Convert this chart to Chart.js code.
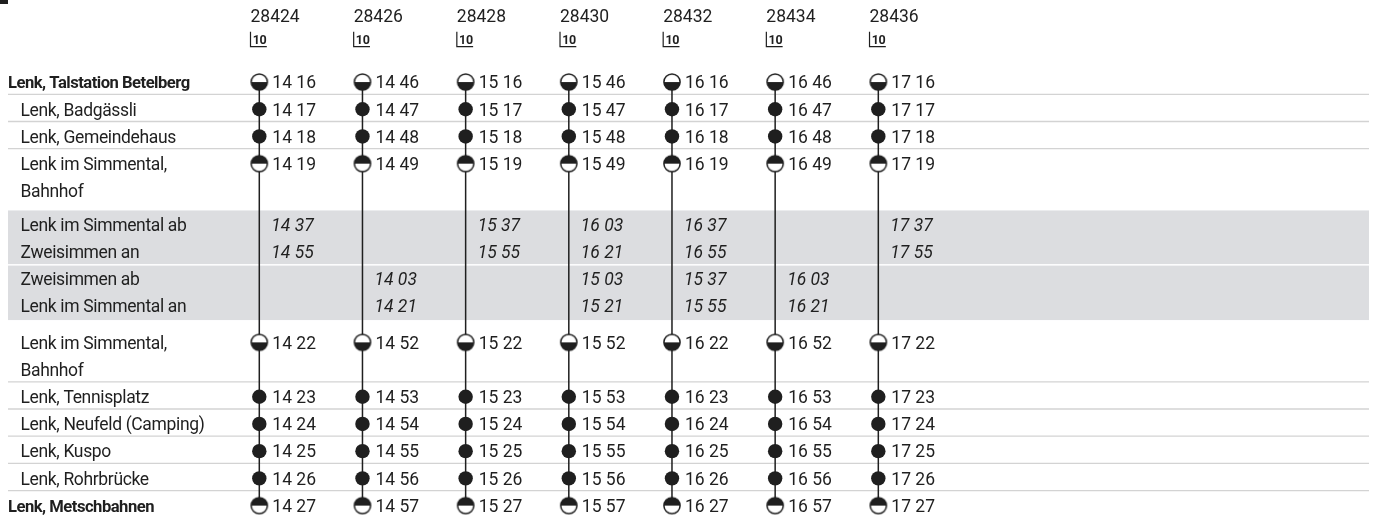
<!DOCTYPE html>
<html><head><meta charset="utf-8">
<script src="https://cdn.jsdelivr.net/npm/chart.js@4.4.1/dist/chart.umd.min.js"></script>
<style>html,body{margin:0;padding:0;background:#fff;overflow:hidden}#wrap{width:1375px;height:515px;position:relative}</style>
</head><body><div id="wrap"><canvas id="c"></canvas></div>
<script>
// ---------- DATA ----------
const trains = ['28424', '28426', '28428', '28430', '28432', '28434', '28436'];
const trainClass = ['10', '10', '10', '10', '10', '10', '10'];

const stopNames = ['Lenk, Talstation Betelberg', 'Lenk, Badgässli', 'Lenk, Gemeindehaus',
  ['Lenk im Simmental,', 'Bahnhof'], ['Lenk im Simmental,', 'Bahnhof'],
  'Lenk, Tennisplatz', 'Lenk, Neufeld (Camping)', 'Lenk, Kuspo', 'Lenk, Rohrbrücke', 'Lenk, Metschbahnen'];
const stopBold = [true, false, false, false, false, false, false, false, false, true];
const stopSymbol = ['start', 'dot', 'dot', 'arr', 'dep', 'dot', 'dot', 'dot', 'dot', 'end'];

const tTalstation   = ['14 16', '14 46', '15 16', '15 46', '16 16', '16 46', '17 16'];
const tBadgaessli   = ['14 17', '14 47', '15 17', '15 47', '16 17', '16 47', '17 17'];
const tGemeindehaus = ['14 18', '14 48', '15 18', '15 48', '16 18', '16 48', '17 18'];
const tBahnhofAn    = ['14 19', '14 49', '15 19', '15 49', '16 19', '16 49', '17 19'];
const tBahnhofAb    = ['14 22', '14 52', '15 22', '15 52', '16 22', '16 52', '17 22'];
const tTennisplatz  = ['14 23', '14 53', '15 23', '15 53', '16 23', '16 53', '17 23'];
const tNeufeld      = ['14 24', '14 54', '15 24', '15 54', '16 24', '16 54', '17 24'];
const tKuspo        = ['14 25', '14 55', '15 25', '15 55', '16 25', '16 55', '17 25'];
const tRohrbruecke  = ['14 26', '14 56', '15 26', '15 56', '16 26', '16 56', '17 26'];
const tMetschbahnen = ['14 27', '14 57', '15 27', '15 57', '16 27', '16 57', '17 27'];
const stopTimes = [tTalstation, tBadgaessli, tGemeindehaus, tBahnhofAn, tBahnhofAb,
  tTennisplatz, tNeufeld, tKuspo, tRohrbruecke, tMetschbahnen];

const connLabels = ['Lenk im Simmental ab', 'Zweisimmen an', 'Zweisimmen ab', 'Lenk im Simmental an'];
const cLenkAb = ['14 37', null, '15 37', '16 03', '16 37', null, '17 37'];
const cZweiAn = ['14 55', null, '15 55', '16 21', '16 55', null, '17 55'];
const cZweiAb = [null, '14 03', null, '15 03', '15 37', '16 03', null];
const cLenkAn = [null, '14 21', null, '15 21', '15 55', '16 21', null];
const connTimes = [cLenkAb, cZweiAn, cZweiAb, cLenkAn];

// ---------- LAYOUT ----------
const W = 1375, H = 515;
const LINE_PX = 27.2;
const COL0_PX = 259.3, COL_PX = 103.17;
const FIRST_ROW_TOP = 67.1 / LINE_PX;
const GAP = 0.27;
const GRAY_AFTER = 3;
const SYM_IN_LINE = 0.55;
const TABLE_L = 8, TABLE_R = 1369;
const TXT = '#1f1f1f';
const FONT = 'Roboto';
const FS = 17.5;

const rowTop = [], rowBottom = [], rowY = [];
let grayTop = 0, grayBottom = 0;
(function () {
  let cur = FIRST_ROW_TOP;
  stopNames.forEach((n, k) => {
    const lines = Array.isArray(n) ? n.length : 1;
    rowTop[k] = cur; rowY[k] = cur + SYM_IN_LINE; cur += lines; rowBottom[k] = cur;
    if (k === GRAY_AFTER) {
      cur += GAP; grayTop = cur; cur += connLabels.length + 0.03; grayBottom = cur; cur += GAP;
    }
  });
})();

// ---------- SYMBOLS ----------
function makeHalf(topBlack) {
  const c = document.createElement('canvas'); c.width = 22; c.height = 22;
  const g = c.getContext('2d'); const r = 8.1, m = 11;
  g.fillStyle = '#fff'; g.beginPath(); g.arc(m, m, r, 0, Math.PI * 2); g.fill();
  g.fillStyle = TXT; g.beginPath();
  if (topBlack) g.arc(m, m, r, Math.PI, 0); else g.arc(m, m, r, 0, Math.PI);
  g.closePath(); g.fill();
  g.strokeStyle = TXT; g.lineWidth = 1.5; g.beginPath(); g.arc(m, m, r, 0, Math.PI * 2); g.stroke();
  return c;
}
const symTop = makeHalf(true), symBottom = makeHalf(false);
const symFor = { start: symBottom, dep: symBottom, arr: symTop, end: symTop };

const datasets = trains.map((t, j) => ({
  label: t,
  data: stopTimes.map((arr, k) => ({ x: j, y: rowY[k], t: arr[j] })),
  showLine: true,
  borderColor: TXT,
  borderWidth: 1.5,
  tension: 0,
  pointStyle: ctx => stopSymbol[ctx.dataIndex] === 'dot' ? 'circle' : symFor[stopSymbol[ctx.dataIndex]],
  pointRadius: 7.2,
  pointHoverRadius: 7.2,
  pointBackgroundColor: TXT,
  pointBorderColor: TXT,
  pointBorderWidth: 0
}));

function setSpacing(ctx, v) { if ('letterSpacing' in ctx) ctx.letterSpacing = v + 'px'; }

const tablePlugin = {
  id: 'table',
  beforeDatasetsDraw(chart) {
    const ctx = chart.ctx, xs = chart.scales.x, ys = chart.scales.y;
    ctx.save();
    ctx.fillStyle = TXT; ctx.fillRect(0, 0, 8, 4);
    const gT = ys.getPixelForValue(grayTop), gB = ys.getPixelForValue(grayBottom);
    ctx.fillStyle = '#dcdde0';
    ctx.fillRect(TABLE_L, gT, TABLE_R - TABLE_L, gB - gT);
    const mid = ys.getPixelForValue(grayTop + 2);
    ctx.fillStyle = '#fff'; ctx.fillRect(TABLE_L, mid - 0.75, TABLE_R - TABLE_L, 1.5);
    ctx.strokeStyle = '#d3d3d3'; ctx.lineWidth = 1.3;
    stopNames.forEach((n, k) => {
      if (k === GRAY_AFTER || k === stopNames.length - 1) return;
      const y = ys.getPixelForValue(rowBottom[k]);
      ctx.beginPath(); ctx.moveTo(TABLE_L, y); ctx.lineTo(TABLE_R, y); ctx.stroke();
    });
    ctx.fillStyle = TXT; ctx.textBaseline = 'alphabetic'; ctx.textAlign = 'left';
    trains.forEach((t, j) => {
      const x = xs.getPixelForValue(j) - 8.8;
      setSpacing(ctx, 0);
      ctx.font = `${FS}px ${FONT}`;
      ctx.fillText(t, x, ys.getPixelForValue(SYM_IN_LINE) + 6.8);
      const yb = ys.getPixelForValue(1.715);
      ctx.strokeStyle = TXT; ctx.lineWidth = 1.2;
      ctx.beginPath(); ctx.moveTo(x, yb - 15); ctx.lineTo(x, yb); ctx.lineTo(x + 16.3, yb); ctx.stroke();
      ctx.font = `bold 12.5px ${FONT}`;
      setSpacing(ctx, -0.3);
      ctx.fillText(trainClass[j], x + 2.2, yb - 3);
    });
    stopNames.forEach((n, k) => {
      const lines = Array.isArray(n) ? n : [n];
      ctx.font = stopBold[k] ? `bold 16.6px ${FONT}` : `${FS}px ${FONT}`;
      setSpacing(ctx, stopBold[k] ? -0.5 : -0.35);
      const x = stopBold[k] ? TABLE_L : 20.5;
      lines.forEach((ln, i) => ctx.fillText(ln, x, ys.getPixelForValue(rowY[k] + i) + 6.3));
    });
    connLabels.forEach((lab, r) => {
      const y = ys.getPixelForValue(grayTop + r + 0.52) + 6.3;
      ctx.font = `${FS}px ${FONT}`;
      setSpacing(ctx, -0.35);
      ctx.fillText(lab, 20.5, y);
      ctx.font = `italic ${FS}px ${FONT}`;
      setSpacing(ctx, 0);
      connTimes[r].forEach((v, j) => { if (v) ctx.fillText(v, xs.getPixelForValue(j) + 12, y); });
    });
    ctx.restore();
  },
  afterDatasetsDraw(chart) {
    const ctx = chart.ctx;
    ctx.save();
    setSpacing(ctx, 0);
    ctx.fillStyle = TXT; ctx.font = `${FS}px ${FONT}`; ctx.textBaseline = 'alphabetic'; ctx.textAlign = 'left';
    chart.data.datasets.forEach((ds, j) => {
      chart.getDatasetMeta(j).data.forEach((pt, k) => {
        ctx.fillText(ds.data[k].t, pt.x + 13, pt.y + 6.3);
      });
    });
    ctx.restore();
  }
};

new Chart(document.getElementById('c'), {
  type: 'scatter',
  data: { datasets },
  options: {
    responsive: true, maintainAspectRatio: false, animation: false, events: [],
    layout: { padding: 0, autoPadding: false },
    plugins: { legend: { display: false }, tooltip: { enabled: false } },
    scales: {
      x: { type: 'linear', display: false, min: -COL0_PX / COL_PX, max: (W - COL0_PX) / COL_PX },
      y: { type: 'linear', display: false, reverse: true, min: 0, max: H / LINE_PX }
    }
  },
  plugins: [tablePlugin]
});
</script></body></html>
